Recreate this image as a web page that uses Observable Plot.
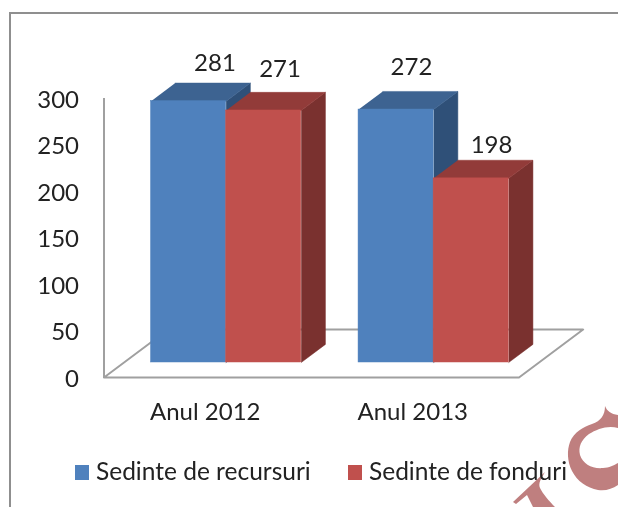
<!DOCTYPE html>
<html>
<head>
<meta charset="utf-8">
<script src="https://cdn.jsdelivr.net/npm/d3@7"></script>
<script src="https://cdn.jsdelivr.net/npm/@observablehq/plot@0.6"></script>
<style>
html,body{margin:0;padding:0;background:#fff;width:618px;height:507px;overflow:hidden;font-family:Lato,sans-serif}
#frame{position:absolute;left:9px;top:12px;width:700px;height:600px;border:2px solid #8f8f8f;box-sizing:border-box}
#mark{position:absolute;left:0;top:0}
#chart{position:absolute;left:0;top:0;filter:blur(0.35px)}
#legend{position:absolute;left:0;top:0;width:618px;height:507px;font-size:24.5px;color:#222;pointer-events:none;filter:blur(0.35px)}
#legend span{position:absolute;white-space:nowrap;line-height:26px}
#legend i{position:absolute;width:14px;height:15px}
</style>
</head>
<body>
<div id="frame"></div>
<svg id="mark" width="618" height="507"><path fill="#bf7f7f" d="M605,406C607,411 611,414 618,415L618,428C608,425 597,429 589,434C581,440 578,447 580,455C583,464 592,469 603,468C609,468 614,465 618,463L618,485C612,489 606,491 598,490C587,488 577,481 572,471C567,461 567,450 570,442C574,432 583,427 592,424C601,421 605,415 605,406Z"/><path fill="#bf7f7f" d="M513,502L545,472C541,479 538,483 540,488C543,494 549,501 555,507L533,507C531,503 529,499 527,495L516,504Z"/></svg>
<div id="chart"></div>
<div id="legend">
  <i style="left:75px;top:465px;background:#4f81bd"></i><span style="left:96px;top:458px">Sedinte de recursuri</span>
  <i style="left:348px;top:465px;background:#c0504d"></i><span style="left:369px;top:458px">Sedinte de fonduri</span>
</div>
<script>
const categories = ["Anul 2012", "Anul 2013"];
const seriesNames = ["Sedinte de recursuri", "Sedinte de fonduri"];
const recursuri = [281, 272];
const fonduri = [271, 198];
const yTicks = [0, 50, 100, 150, 200, 250, 300];

const frontColors = ["#4f81bd", "#c0504d"];
const topColors = ["#3d6391", "#923b39"];
const sideColors = ["#2f5078", "#7a312f"];
const labelNudge = [[2, -20], [-8, -23], [-9, -24], [-4, -15]];

// Oblique projection of the chart's 3-D box: d runs 0..1 across the floor depth.
const depthU = 0.85, depthV = 51.6, dFront = 0.3125, dBack = 0.69;
const gap = 0.358, catSpan = 2.75, barWidth = 0.995, nUnits = catSpan * categories.length;
const px = (u, d) => u + d * depthU;
const py = (v, d) => v + d * depthV;

const bars = [];
categories.forEach((c, i) => {
  [recursuri, fonduri].forEach((vals, s) => {
    bars.push({category: c, series: seriesNames[s], s, u: i * catSpan + gap + s * barWidth, value: vals[i]});
  });
});

const poly = (b, kind) => {
  const {u, value: v} = b;
  const r = u + barWidth;
  const pts = kind === "side"
    ? [[r, 0, dFront], [r, 0, dBack], [r, v, dBack], [r, v, dFront]]
    : [[u, v, dFront], [r, v, dFront], [r, v, dBack], [u, v, dBack]];
  return pts.map(([a, h, d]) => ({x: px(a, d), y: py(h, d)}));
};
const face = (b, kind, color) =>
  Plot.line(poly(b, kind), {x: "x", y: "y", fill: color, stroke: color, strokeWidth: 0.5});

const floor = [[0, 0], [nUnits, 0], [nUnits + depthU, depthV], [depthU, depthV], [0, 0]]
  .map(([x, y]) => ({x, y}));

const chart = Plot.plot({
  width: 618, height: 507,
  marginLeft: 103.5, marginRight: 99.5, marginTop: 98, marginBottom: 130,
  x: {domain: [0, nUnits], axis: null},
  y: {domain: [0, 300], axis: null},
  style: {background: "transparent", fontFamily: "Lato, sans-serif", overflow: "visible"},
  marks: [
    Plot.line(floor, {x: "x", y: "y", stroke: "#a0a0a0", strokeWidth: 2}),
    Plot.ruleX([0], {y1: 0, y2: 300, stroke: "#a0a0a0", strokeWidth: 2}),
    Plot.axisY({ticks: yTicks, tickSize: 0, tickPadding: 25, fontSize: 24, line: false, label: null, color: "#222", textAnchor: "end", dy: 1.5}),
    ...bars.flatMap((b, i) => [
      face(b, "side", sideColors[b.s]),
      face(b, "top", topColors[b.s]),
      Plot.rect([b], {
        x1: d => px(d.u, dFront), x2: d => px(d.u + barWidth, dFront),
        y1: () => py(0, dFront), y2: d => py(d.value, dFront),
        fill: frontColors[b.s], stroke: frontColors[b.s], strokeWidth: 0.5
      }),
      Plot.text([b], {
        x: d => px(d.u + 0.5, dBack), y: d => py(d.value, dBack),
        text: d => String(d.value), fontSize: 24, fill: "#222",
        dx: labelNudge[i][0], dy: labelNudge[i][1]
      })
    ]),
    Plot.text(categories, {
      x: (d, i) => (i + 0.5) * catSpan, y: () => 0,
      text: d => d, fontSize: 24, fill: "#222", dx: -2.5, dy: 35
    })
  ]
});
document.getElementById("chart").appendChild(chart);
</script>
</body>
</html>
